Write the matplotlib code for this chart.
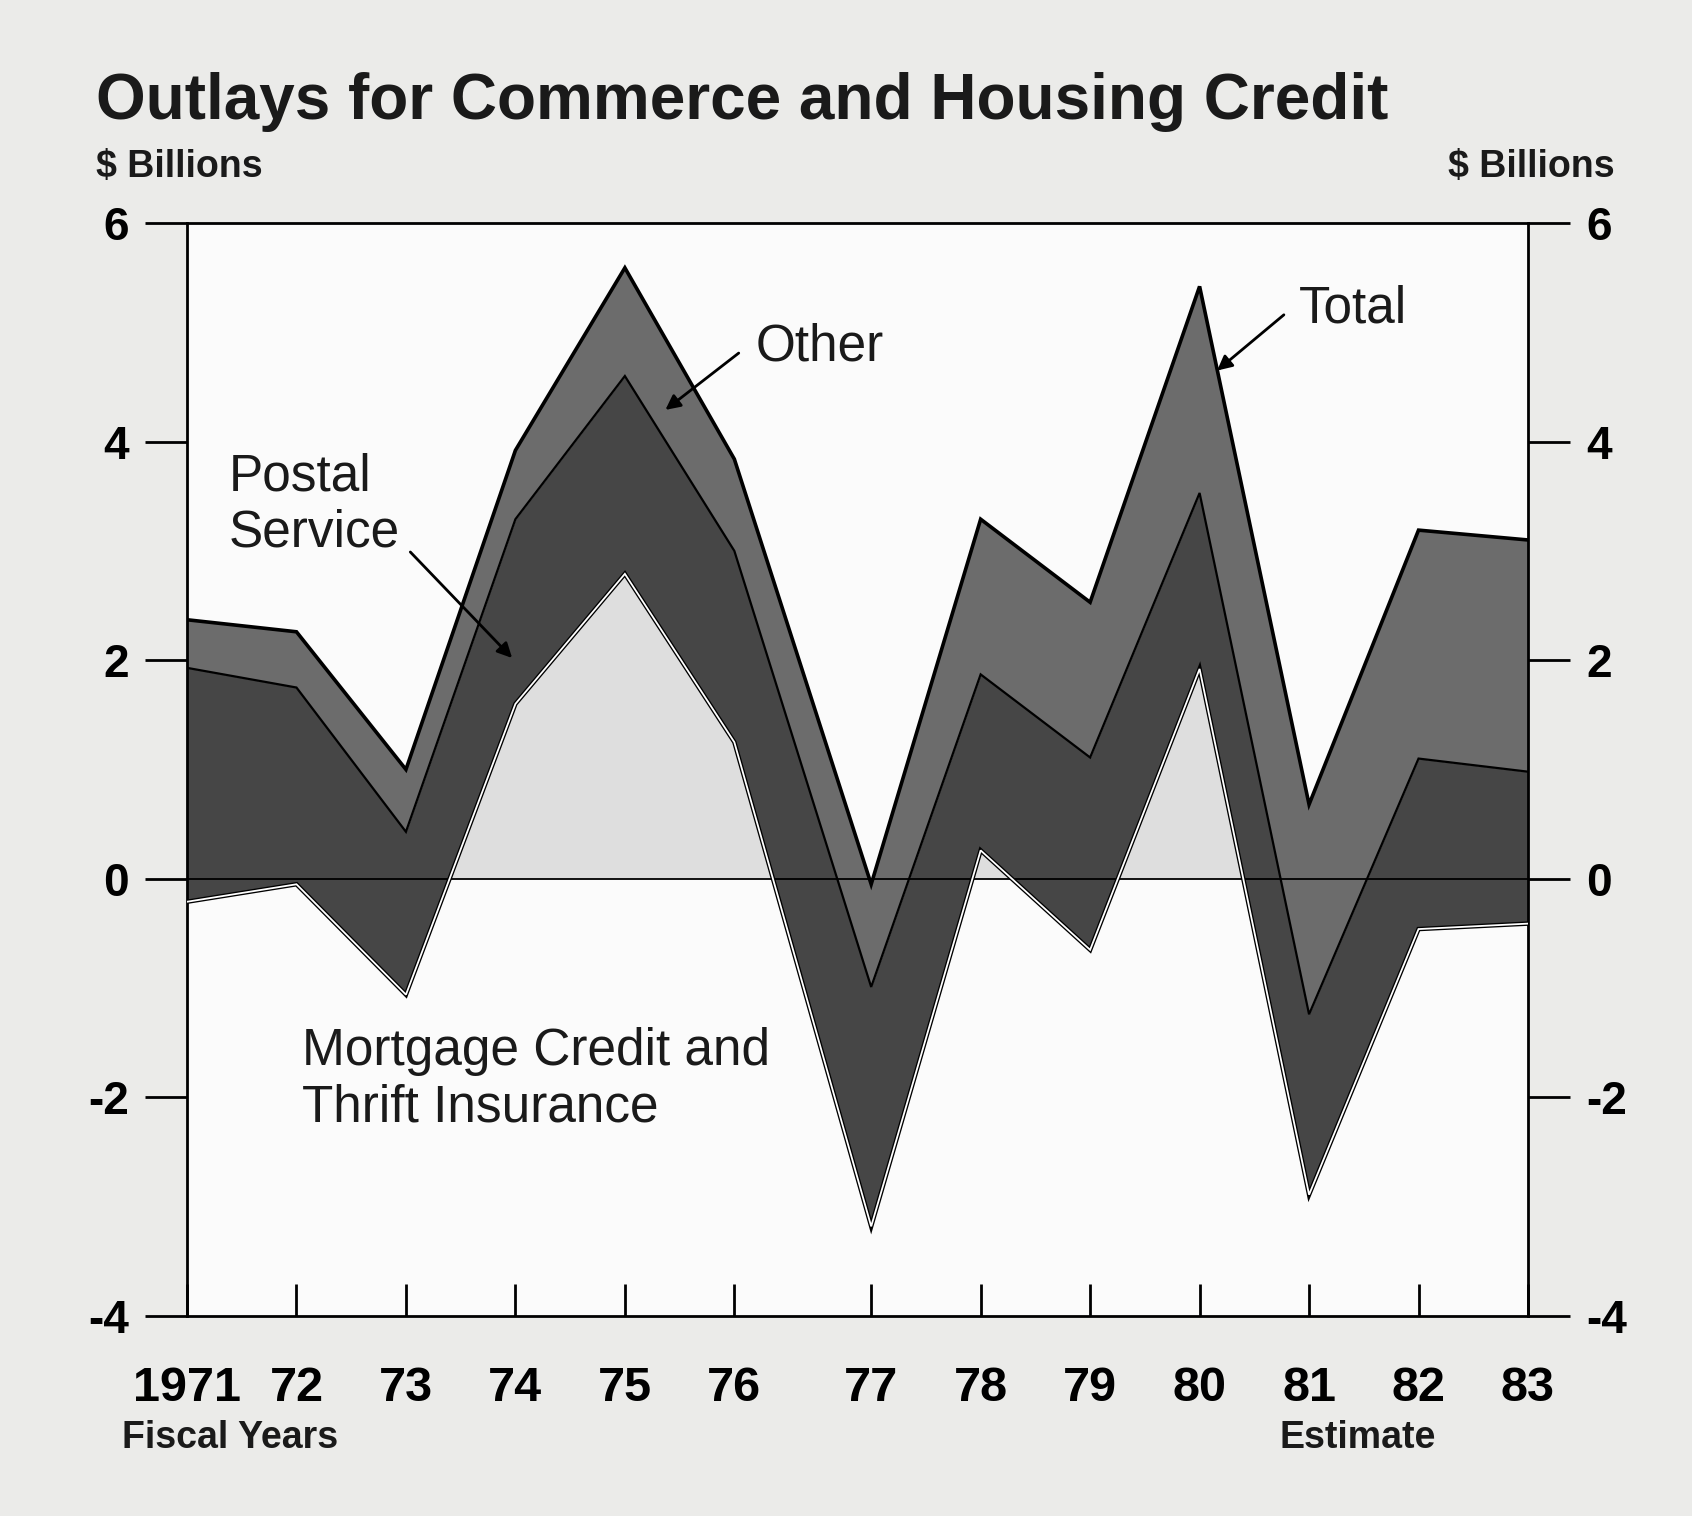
import numpy as np
import matplotlib
matplotlib.use("Agg")
import matplotlib.pyplot as plt
from matplotlib import font_manager as fm

# ── data ($ billions) ─────────────────────────────────────────────────────────
YEARS    = [1971, 1972, 1973, 1974, 1975, 1976, 1977, 1978, 1979, 1980, 1981, 1982, 1983]
YEAR_LBL = ["1971", "72", "73", "74", "75", "76", "77", "78", "79", "80", "81", "82", "83"]
MORTGAGE = [-0.21, -0.05, -1.06, 1.60, 2.79, 1.25, -3.18, 0.26, -0.65, 1.92, -2.89, -0.46, -0.41]
POSTAL   = [2.14, 1.80, 1.49, 1.69, 1.81, 1.75, 2.19, 1.61, 1.76, 1.61, 1.65, 1.56, 1.39]
OTHER    = [0.44, 0.51, 0.57, 0.63, 0.99, 0.84, 0.94, 1.42, 1.42, 1.89, 1.92, 2.09, 2.12]
YTICKS   = [-4, -2, 0, 2, 4, 6]

# ── style ─────────────────────────────────────────────────────────────────────
names = {f.name for f in fm.fontManager.ttflist}
NARROW = "Liberation Sans Narrow" if "Liberation Sans Narrow" in names else "Liberation Sans"
TITLE_SIZE = 52 if NARROW == "Liberation Sans Narrow" else 46
BODY = "Liberation Sans"
BG = "#ebebe9"
INK = "#1a1a1a"
C_POSTAL = "#464646"
C_OTHER = "#6c6c6c"
C_MORT = "#dedede"

# fiscal 1977 onward sits a transition quarter further right
x = np.array([y - 1971 + (0.25 if y >= 1977 else 0) for y in YEARS], float)
mort = np.array(MORTGAGE)
mid = mort + np.array(POSTAL)
tot = mid + np.array(OTHER)

fig = plt.figure(figsize=(16.92, 15.16), dpi=100, facecolor=BG)
ax = fig.add_axes([187/1692, 1 - 1316/1516, (1528-187)/1692, (1316-223)/1516])
ax.set_facecolor("#fbfbfb")

ax.fill_between(x, 0, mort, where=mort >= 0, interpolate=True, color=C_MORT, lw=0, zorder=1)
ax.fill_between(x, mort, mid, color=C_POSTAL, lw=0, zorder=2)
ax.fill_between(x, mid, tot, color=C_OTHER, lw=0, zorder=2)
ax.axhline(0, color="black", lw=1.3, zorder=4)
ax.plot(x, mort, color="black", lw=3.2, zorder=5, solid_joinstyle="miter")
ax.plot(x, mort, color="white", lw=1.3, zorder=6, solid_joinstyle="miter")
ax.plot(x, mid, color="black", lw=1.6, zorder=5, solid_joinstyle="miter")
ax.plot(x, tot, color="black", lw=2.6, zorder=5, solid_joinstyle="miter")

ax.set_xlim(x[0], x[-1])
ax.set_ylim(-4, 6)
ax.set_xticks(x)
ax.set_xticklabels(YEAR_LBL)
ax.set_yticks(YTICKS)
ax.set_yticklabels([str(v) for v in YTICKS])
for s in ax.spines.values():
    s.set_linewidth(2)
ax.tick_params(axis="y", direction="out", length=30, width=2, pad=12,
               labelsize=33, right=True, labelright=True)
ax.tick_params(axis="x", direction="in", length=23, width=2, pad=36, labelsize=35)
for lab in ax.get_xticklabels() + ax.get_yticklabels():
    lab.set_fontfamily(BODY)
    lab.set_fontweight("bold")

arrow = dict(arrowstyle="-|>", color="black", lw=2, mutation_scale=22, shrinkA=0, shrinkB=0)
lbl = dict(fontfamily=BODY, fontsize=37, color=INK)
ax.text(5.19, 4.87, "Other", ha="left", va="center", **lbl)
ax.annotate("", xy=(4.37, 4.29), xytext=(5.04, 4.81), arrowprops=arrow, zorder=7)
ax.text(10.16, 5.21, "Total", ha="left", va="center", **lbl)
ax.annotate("", xy=(9.41, 4.65), xytext=(10.02, 5.16), arrowprops=arrow, zorder=7)
ax.text(0.38, 3.42, "Postal\nService", ha="left", va="center", linespacing=1.2, **lbl)
ax.annotate("", xy=(2.97, 2.02), xytext=(2.04, 2.99), arrowprops=arrow, zorder=7)
ax.text(1.05, -1.84, "Mortgage Credit and\nThrift Insurance", ha="left", va="center",
        linespacing=1.2, **lbl)

fig.text(96/1692, 0.933, "Outlays for Commerce and Housing Credit", ha="left", va="center",
         fontfamily=NARROW, fontweight="bold", fontsize=TITLE_SIZE, color=INK)
small = dict(fontfamily=NARROW, fontweight="bold", fontsize=27, color=INK, va="center")
fig.text(96/1692, 0.89, "$ Billions", ha="left", **small)
fig.text(1615/1692, 0.89, "$ Billions", ha="right", **small)
fig.text(122/1692, 0.0515, "Fiscal Years", ha="left", **small)
fig.text(1358/1692, 0.0515, "Estimate", ha="center", **small)

fig.savefig("out.png", dpi=100, facecolor=BG)
